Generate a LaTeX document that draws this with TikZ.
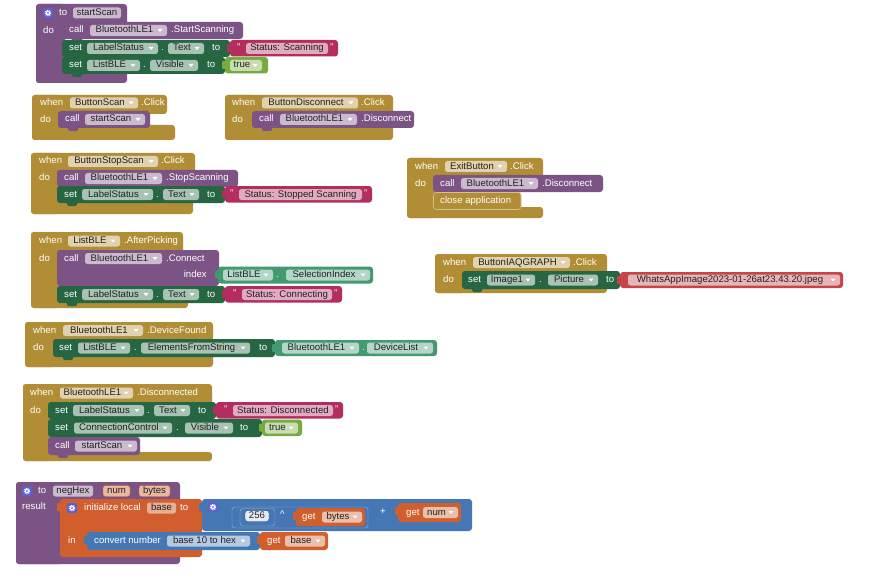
\documentclass[tikz,border=0pt]{standalone}
\usepackage{fontspec}
\setmainfont{Liberation Sans}
\definecolor{evt}{HTML}{B18E35}
\definecolor{proc}{HTML}{7C5385}
\definecolor{setg}{HTML}{266643}
\definecolor{getg}{HTML}{439970}
\definecolor{txtc}{HTML}{B32D5E}
\definecolor{logic}{HTML}{77AB41}
\definecolor{asset}{HTML}{C64549}
\definecolor{localv}{HTML}{D05F2D}
\definecolor{mathb}{HTML}{4677B5}
\definecolor{gearc}{HTML}{5B5FD6}
\definecolor{fldtxt}{HTML}{222222}

\begin{document}
\begin{tikzpicture}[x=1pt,y=-1pt,
  lbl/.style={text=white,font=\fontsize{9.6}{11}\selectfont,inner sep=0pt,
    anchor=west,text height=6.5pt,text depth=1.5pt},
  fld/.style={text=fldtxt,font=\fontsize{9.6}{11}\selectfont,inner sep=0pt,
    text height=6.5pt,text depth=1.5pt}]
\useasboundingbox (0,0) rectangle (869,588);
\fill[white] (0,0) rectangle (869,588);
% ---- 基本块：颜色 x1 y1 x2 y2 ----
\def\bk#1#2#3#4#5{\fill[#1,rounded corners=3pt] (#2,#3) rectangle (#4,#5);}
% ---- 语句块（下方带凸起） ----
\def\st#1#2#3#4#5{\fill[#1] (#2+9,#5-1) -- (#2+11,#5+3) -- (#2+19,#5+3) -- (#2+21,#5-1) -- cycle;
  \bk{#1}{#2}{#3}{#4}{#5}}
% ---- 值块（左侧插头） ----
\def\vl#1#2#3#4#5{\fill[#1,rounded corners=1pt] (#2-3,#3+4) rectangle (#2+2,#3+12);
  \bk{#1}{#2}{#3}{#4}{#5}}
% ---- C 形外框：颜色 x1 y1 头右 头底 槽左 底顶 底右 y2 ----
\def\ct#1#2#3#4#5#6#7#8#9{\fill[#1,rounded corners=3pt] (#2,#3) rectangle (#4,#5+3);
  \fill[#1,rounded corners=3pt] (#2,#3) rectangle (#6+3,#9);
  \fill[#1,rounded corners=3pt] (#2,#7-3) rectangle (#8,#9);}
% ---- 下拉字段 ----
\def\dd#1#2#3#4#5#6{\fill[#6!40!white,rounded corners=2.5pt] (#2,#4-5.5) rectangle (#3,#4+5.5);
  \node[fld] (#1) at ({(#2+#3-8)/2},#4) {#5};
  \fill[white] (#3-9.5,#4-1.5) -- (#3-4.5,#4-1.5) -- (#3-7,#4+1.5) -- cycle;}
% ---- 普通字段 ----
\def\pf#1#2#3#4#5#6{\path[#6,rounded corners=2.5pt] (#2,#4-5.5) rectangle (#3,#4+5.5);
  \node[fld] (#1) at ({(#2+#3)/2},#4) {#5};}
% ---- 齿轮图标 ----
\def\gr#1#2{\fill[gearc,rounded corners=1.5pt] (#1-5,#2-5) rectangle (#1+5,#2+5);
  \draw[white,line width=1.4pt,dash pattern=on 0.9pt off 0.9pt] (#1,#2) circle (2.6);
  \fill[white] (#1,#2) circle (2.1); \fill[gearc] (#1,#2) circle (1);}
% ---- call BluetoothLE1 .xxx ----
\def\callbt#1#2#3#4#5{\st{proc}{#2}{#3}{#4}{#3+17}
  \node[lbl] (#1call) at (#2+7,#3+8.5) {call};
  \dd{#1obj}{#2+28}{#2+105}{#3+8.5}{BluetoothLE1}{proc}
  \node[lbl] (#1m) at (#2+109,#3+8.5) {#5};}
% ---- set LabelStatus . Text to "..." ----
\def\setst#1#2#3#4#5#6{\st{setg}{#2}{#3}{#2+168}{#3+17}
  \vl{txtc}{#2+168}{#3}{#5+10}{#3+16.5}
  \node[lbl] (#1set) at (#2+7,#3+8.5) {set};
  \dd{#1obj}{#2+25}{#2+96}{#3+8.5}{LabelStatus}{setg}
  \node[lbl] (#1dot) at (#2+99,#3+8.5) {.};
  \dd{#1prop}{#2+106}{#2+142}{#3+8.5}{Text}{setg}
  \node[lbl] (#1to) at (#2+150,#3+8.5) {to};
  \node[lbl] (#1q) at (#4-9,#3+8) {"};
  \pf{#1str}{#4}{#5}{#3+8.5}{#6}{fill=txtc!40!white}
  \node[lbl] (#1qq) at (#5+2,#3+8) {"};}

% ---- to startScan ----
\ct{proc}{36}{4}{127}{22}{62}{74}{127}{83}
\gr{48}{13}
\node[lbl] (aTo) at (59,13) {to};
\pf{aName}{73}{121}{13}{startScan}{fill=proc!40!white}
\node[lbl] (aDo) at (43,31) {do};
\callbt{aC}{62}{22}{243}{.StartScanning}
\setst{aS}{62}{40}{246}{328}{Status: Scanning}
\st{setg}{62}{57}{225}{74}
\vl{logic}{225}{57}{268}{73.5}
\node[lbl] (aS2set) at (69,65.5) {set};
\dd{aS2obj}{87}{140}{65.5}{ListBLE}{setg}
\node[lbl] (aS2dot) at (143,65.5) {.};
\dd{aS2prop}{150}{198}{65.5}{Visible}{setg}
\node[lbl] (aS2to) at (207,65.5) {to};
\dd{aS2val}{230}{262}{65.5}{true}{logic}

% ---- when ButtonScan.Click ----
\ct{evt}{32}{95}{167}{111}{58}{128}{175}{140}
\node[lbl] (bWhen) at (40,103) {when};
\dd{bBtn}{70}{138}{103}{ButtonScan}{evt}
\node[lbl] (bEv) at (141,103) {.Click};
\node[lbl] (bDo) at (40,120) {do};
\st{proc}{58}{111}{150}{128}
\node[lbl] (bCall) at (65,119.5) {call};
\dd{bProc}{85}{145}{119.5}{startScan}{proc}

% ---- when ButtonDisconnect.Click ----
\ct{evt}{225}{95}{393}{111}{252}{128}{393}{140}
\node[lbl] (cWhen) at (232,103) {when};
\dd{cBtn}{262}{358}{103}{ButtonDisconnect}{evt}
\node[lbl] (cEv) at (361,103) {.Click};
\node[lbl] (cDo) at (232,120) {do};
\callbt{cC}{252}{111}{414}{.Disconnect}

% ---- when ButtonStopScan.Click ----
\ct{evt}{31}{153}{195}{170}{57}{203}{193}{214}
\node[lbl] (dWhen) at (39,161.5) {when};
\dd{dBtn}{68}{158}{161.5}{ButtonStopScan}{evt}
\node[lbl] (dEv) at (161,161.5) {.Click};
\node[lbl] (dDo) at (39,178) {do};
\callbt{dC}{57}{170}{238}{.StopScanning}
\setst{dS}{57}{186}{239}{362}{Status: Stopped Scanning}

% ---- when ExitButton.Click ----
\ct{evt}{407}{158}{543}{175}{433}{210}{543}{218}
\node[lbl] (eWhen) at (415,166.5) {when};
\dd{eBtn}{445}{507}{166.5}{ExitButton}{evt}
\node[lbl] (eEv) at (510,166.5) {.Click};
\node[lbl] (eDo) at (415,184) {do};
\callbt{eC}{433}{175}{603}{.Disconnect}
\st{evt}{433}{192}{521}{210}
\draw[evt!55!white,line width=0.6pt,rounded corners=3pt] (433.5,192.5) rectangle (521,209.5);
\node[lbl] (eClose) at (440,201) {close application};

% ---- when ListBLE.AfterPicking ----
\ct{evt}{31}{232}{183}{250}{57}{302}{188}{308}
\node[lbl] (fWhen) at (39,241) {when};
\dd{fBtn}{68}{120}{241}{ListBLE}{evt}
\node[lbl] (fEv) at (124,241) {.AfterPicking};
\node[lbl] (fDo) at (39,258.5) {do};
\st{proc}{57}{250}{219}{286}
\node[lbl] (fCall) at (64,258.5) {call};
\dd{fObj}{85}{162}{258.5}{BluetoothLE1}{proc}
\node[lbl] (fM) at (166,258.5) {.Connect};
\node[lbl,anchor=east] (fIdx) at (207,275) {index};
\vl{getg}{218}{266.5}{373}{283.5}
\dd{fGObj}{223}{273}{275}{ListBLE}{getg}
\node[lbl] (fGDot) at (276,275) {.};
\dd{fGProp}{286}{370}{275}{SelectionIndex}{getg}
\setst{fS}{57}{286}{242}{332}{Status: Connecting}

% ---- when ButtonIAQGRAPH.Click ----
\ct{evt}{435}{254}{607}{271}{462}{289}{607}{293}
\node[lbl] (gWhen) at (443,262.5) {when};
\dd{gBtn}{473}{570}{262.5}{ButtonIAQGRAPH}{evt}
\node[lbl] (gEv) at (573,262.5) {.Click};
\node[lbl] (gDo) at (443,280) {do};
\st{setg}{462}{271}{620}{289}
\vl{asset}{620}{272}{843}{288}
\node[lbl] (gSet) at (468,280) {set};
\dd{gObj}{487}{535}{280}{Image1}{setg}
\node[lbl] (gDot) at (539,280) {.};
\dd{gProp}{548}{598}{280}{Picture}{setg}
\node[lbl] (gTo) at (606,280) {to};
\dd{gVal}{628}{840}{280}{WhatsAppImage2023-01-26at23.43.20.jpeg}{asset}

% ---- when BluetoothLE1.DeviceFound ----
\ct{evt}{25}{322}{213}{339}{53}{357}{213}{367}
\node[lbl] (hWhen) at (33,330.5) {when};
\dd{hObj}{63}{143}{330.5}{BluetoothLE1}{evt}
\node[lbl] (hEv) at (147,330.5) {.DeviceFound};
\node[lbl] (hDo) at (33,348) {do};
\st{setg}{53}{339}{275}{357}
\vl{getg}{275}{340}{437}{356}
\node[lbl] (hSet) at (59,348) {set};
\dd{hSObj}{78}{130}{348}{ListBLE}{setg}
\node[lbl] (hSDot) at (134,348) {.};
\dd{hSProp}{141}{250}{348}{ElementsFromString}{setg}
\node[lbl] (hTo) at (259,348) {to};
\dd{hGObj}{282}{359}{348}{BluetoothLE1}{getg}
\node[lbl] (hGDot) at (362,348) {.};
\dd{hGProp}{367}{433}{348}{DeviceList}{getg}

% ---- when BluetoothLE1.Disconnected ----
\ct{evt}{23}{384}{212}{402}{48}{455}{212}{461}
\node[lbl] (iWhen) at (30,393) {when};
\dd{iObj}{60}{133}{393}{BluetoothLE1}{evt}
\node[lbl] (iEv) at (137,393) {.Disconnected};
\node[lbl] (iDo) at (30,410.5) {do};
\setst{iS}{48}{402}{233}{333}{Status: Disconnected}
\st{setg}{48}{419}{262}{437}
\vl{logic}{262}{419.5}{302}{436}
\node[lbl] (iS2set) at (55,428) {set};
\dd{iS2obj}{74}{172}{428}{ConnectionControl}{setg}
\node[lbl] (iS2dot) at (176,428) {.};
\dd{iS2prop}{185}{233}{428}{Visible}{setg}
\node[lbl] (iS2to) at (240,428) {to};
\dd{iS2val}{265}{298}{428}{true}{logic}
\st{proc}{48}{437}{140}{455}
\node[lbl] (iCall) at (55,446) {call};
\dd{iProc}{75}{137}{446}{startScan}{proc}

% ---- to negHex num bytes result ----
\ct{proc}{16}{482}{180}{499}{60}{550}{180}{564}
\gr{27}{491}
\node[lbl] (jTo) at (38,491) {to};
\pf{jName}{53}{93}{491}{negHex}{fill=proc!40!white}
\pf{jP1}{103}{130}{491}{num}{fill=localv!45!white,draw=localv}
\pf{jP2}{139}{170}{491}{bytes}{fill=localv!45!white,draw=localv}
\node[lbl] (jRes) at (22,507) {result};
\vl{localv}{60}{499}{202}{557}
\gr{72}{508}
\node[lbl] (jInit) at (84,508) {initialize local};
\pf{jVar}{147}{176}{508}{base}{fill=localv!50!white}
\node[lbl] (jTo2) at (180,508) {to};
\node[lbl] (jIn) at (68,541) {in};
% 加法块
\vl{mathb}{202}{499}{472}{531}
\gr{213}{507}
\path[fill=mathb,draw=mathb!55!white,rounded corners=3pt] (232,507) rectangle (368,528);
\path[fill=mathb,draw=mathb!55!white,rounded corners=3pt] (240,508.5) rectangle (275,526);
\pf{jNum}{245}{269}{516}{256}{fill=mathb!15!white,draw=mathb!50!black}
\node[lbl] (jPow) at (280,515) {\textasciicircum};
\vl{localv}{296}{508}{365}{526}
\node[lbl] (jGet1) at (302,517) {get};
\dd{jGetB}{322}{362}{517}{bytes}{localv}
\node[lbl] (jPlus) at (380,512) {+};
\vl{localv}{398}{503}{461}{522}
\node[lbl] (jGet2) at (406,512.5) {get};
\dd{jGetN}{423}{458}{512.5}{num}{localv}
% 转换块
\vl{mathb}{87}{532}{260}{550}
\node[lbl] (jConv) at (94,541) {convert number};
\dd{jBase}{167}{250}{541}{base 10 to hex}{mathb}
\vl{localv}{260}{532}{328}{550}
\node[lbl] (jGet3) at (267,541) {get};
\dd{jGetV}{285}{325}{541}{base}{localv}
\end{tikzpicture}
\end{document}
